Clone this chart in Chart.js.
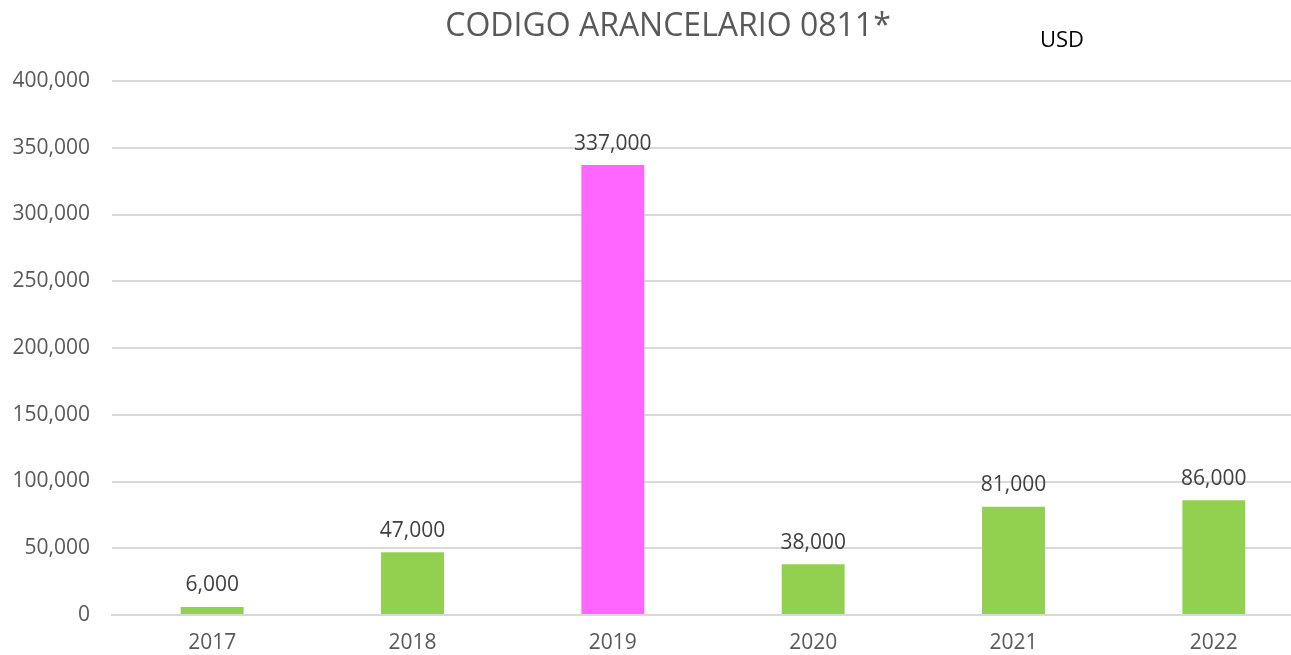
<!DOCTYPE html>
<html>
<head>
<meta charset="utf-8">
<script src="https://cdn.jsdelivr.net/npm/chart.js@4"></script>
<style>
  html, body { margin: 0; padding: 0; background: #fff; overflow: hidden; }
  /* mais largo que a janela: a area do grafico passa da borda direita, como no original */
  #wrap { width: 1316px; height: 655px; }
</style>
</head>
<body>
<div id="wrap"><canvas id="grafico"></canvas></div>
<script>
const anos = ["2017", "2018", "2019", "2020", "2021", "2022"];
const valores = [6000, 47000, 337000, 38000, 81000, 86000];
const cores = ["#92D050", "#92D050", "#FF66FF", "#92D050", "#92D050", "#92D050"];
const titulo = "CODIGO ARANCELARIO 0811*";
const unidade = "USD";

const fmt = (v) => v.toLocaleString("en-US");

// titulo, USD e rotulos em cima das barras
const rotulos = {
    id: "rotulos",
    afterDatasetsDraw(chart) {
        const ctx = chart.ctx;
        const meta = chart.getDatasetMeta(0);
        ctx.save();
        ctx.font = "21px 'Open Sans'";
        ctx.fillStyle = "#404040";
        ctx.textAlign = "center";
        ctx.textBaseline = "bottom";
        meta.data.forEach((bar, i) => {
            ctx.fillText(fmt(valores[i]), bar.x, bar.y - 11);
        });
        ctx.textBaseline = "middle";
        ctx.font = "32px 'Open Sans'";
        ctx.fillStyle = "#595959";
        ctx.fillText(titulo, 668, 27);
        ctx.font = "22px 'Open Sans'";
        ctx.fillStyle = "#000";
        ctx.fillText(unidade, 1062, 41);
        ctx.restore();
    },
};

new Chart(document.getElementById("grafico").getContext("2d"), {
    type: "bar",
    data: {
        labels: anos,
        datasets: [
            {
                label: "USD",
                data: valores,
                backgroundColor: cores,
                categoryPercentage: 1,
                barPercentage: 0.314,
            },
        ],
    },
    options: {
        responsive: true,
        maintainAspectRatio: false,
        animation: false,
        layout: { padding: { left: 0, right: 2, top: 81, bottom: 0 } },
        plugins: {
            legend: { display: false },
            tooltip: { enabled: false },
            title: { display: false },
        },
        scales: {
            x: {
                afterFit(scale) { scale.height = 40; },
                grid: { display: false, drawTicks: false },
                border: { color: "#d9d9d9", width: 2 },
                ticks: { color: "#595959", font: { family: "'Open Sans'", size: 21 }, padding: 15 },
            },
            y: {
                min: 0,
                max: 400000,
                afterFit(scale) { scale.width = 112; },
                grid: { color: "#d9d9d9", lineWidth: 2, drawTicks: false },
                border: { display: false },
                ticks: {
                    stepSize: 50000,
                    color: "#595959",
                    font: { family: "'Open Sans'", size: 21 },
                    padding: 22,
                    callback: (v) => fmt(v),
                },
            },
        },
    },
    plugins: [rotulos],
});
</script>
</body>
</html>
